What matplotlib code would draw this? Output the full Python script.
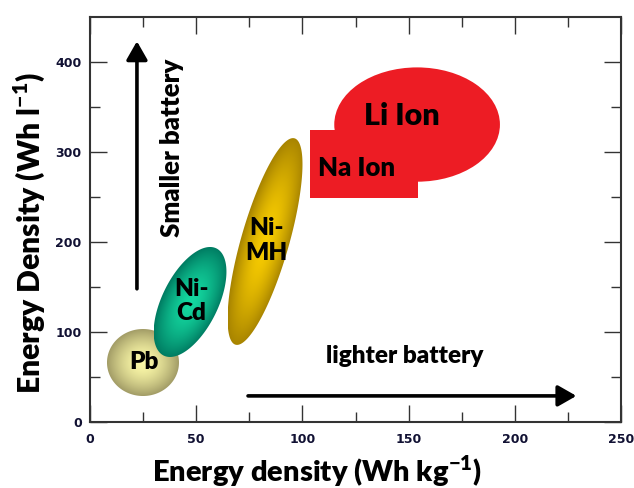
import numpy as np
import matplotlib
matplotlib.use("Agg")
import matplotlib.pyplot as plt
from matplotlib.patches import Polygon, Ellipse, Rectangle
from matplotlib.colors import to_rgb

# ellipse regions, given by the ends of their long axis (Wh/kg, Wh/l)
cells = ["Pb", "Ni-\nCd", "Ni-\nMH"]
grav_lo = [8.0, 34.7, 68.5]
grav_hi = [41.9, 59.5, 96.3]
vol_lo = [66.1, 73.8, 85.9]
vol_hi = [66.1, 192.9, 315.2]

# lithium ion (ellipse) and sodium ion (box) ranges
li_grav = [115.0, 193.0]
li_vol = [267.0, 394.0]
na_grav = [103.6, 154.4]
na_vol = [249.0, 324.0]

x_ticks = [0, 50, 100, 150, 200, 250]
y_ticks = [0, 100, 200, 300, 400]

# styles
thick_px = [67, 56, 48]
inner = ["#fbf8a8", "#14d8a0", "#f8cc00"]
outer = ["#a29c66", "#007c62", "#a88400"]
red = "#ed1c24"
lab = ["Lato", "DejaVu Sans"]
W = 800

plt.rcParams["mathtext.fontset"] = "custom"
plt.rcParams["mathtext.rm"] = "Lato:heavy"
plt.rcParams["mathtext.bf"] = "Lato:heavy"

fig = plt.figure(figsize=(6.34, 4.88), dpi=100)
ax = fig.add_axes([90 / 634, 66 / 488, 531 / 634, 405 / 488])
ax.set_xlim(0, 250)
ax.set_ylim(0, 450)
ax.set_autoscale_on(False)


def ellipse(i, z):
    p0 = ax.transData.transform((grav_lo[i], vol_lo[i]))
    p1 = ax.transData.transform((grav_hi[i], vol_hi[i]))
    c = (p0 + p1) / 2
    d = p1 - p0
    a = np.hypot(*d) / 2
    b = thick_px[i] / 2
    th = np.arctan2(d[1], d[0])
    t = np.linspace(0, 2 * np.pi, 200)
    u = a * np.cos(t)
    v = b * np.sin(t)
    pts = np.column_stack([c[0] + u * np.cos(th) - v * np.sin(th),
                           c[1] + u * np.sin(th) + v * np.cos(th)])
    dpts = ax.transData.inverted().transform(pts)
    poly = Polygon(dpts, closed=True, facecolor="none", edgecolor="none", zorder=z)
    ax.add_patch(poly)
    x0, y0 = dpts.min(axis=0)
    x1, y1 = dpts.max(axis=0)
    gx, gy = np.meshgrid(np.linspace(x0, x1, 300), np.linspace(y0, y1, 300))
    disp = ax.transData.transform(np.column_stack([gx.ravel(), gy.ravel()]))
    dx = disp[:, 0] - c[0]
    dy = disp[:, 1] - c[1]
    uu = dx * np.cos(th) + dy * np.sin(th)
    vv = -dx * np.sin(th) + dy * np.cos(th)
    r = np.clip(np.sqrt((uu / a) ** 2 + (vv / b) ** 2), 0, 1).reshape(gx.shape)
    f = r ** 1.6
    c0 = np.array(to_rgb(inner[i]))
    c1 = np.array(to_rgb(outer[i]))
    img = c0 + (c1 - c0) * f[..., None]
    im = ax.imshow(img, extent=(x0, x1, y0, y1), origin="lower", aspect="auto",
                   interpolation="bilinear", zorder=z)
    im.set_clip_path(poly)
    cx, cy = ax.transData.inverted().transform(c)
    ax.text(cx + 0.5, cy + 1, cells[i], ha="center", va="center", fontsize=17.5,
            fontweight=W, family=lab, linespacing=1.15, zorder=z + 0.5)


ellipse(0, 2)
ellipse(2, 3)
ellipse(1, 4)

ax.add_patch(Rectangle((na_grav[0], na_vol[0]), na_grav[1] - na_grav[0],
                       na_vol[1] - na_vol[0], facecolor=red, edgecolor="none", zorder=2))
ax.add_patch(Ellipse(((li_grav[0] + li_grav[1]) / 2, (li_vol[0] + li_vol[1]) / 2),
                     li_grav[1] - li_grav[0], li_vol[1] - li_vol[0],
                     facecolor=red, edgecolor="none", zorder=2))
ax.text(147, 340, "Li Ion", ha="center", va="center", fontsize=22,
        fontweight=W, family=lab, zorder=5)
ax.text(125.5, 282, "Na Ion", ha="center", va="center", fontsize=18.5,
        fontweight=W, family=lab, zorder=5)

# direction arrows
arr = dict(arrowstyle="-|>,head_length=0.7,head_width=0.4", color="black",
           lw=2.6, mutation_scale=16, shrinkA=0, shrinkB=0)
ax.annotate("", xy=(22.1, 423), xytext=(22.1, 148), arrowprops=arr, zorder=5)
ax.annotate("", xy=(229, 29), xytext=(74.4, 29), arrowprops=arr, zorder=5)
ax.text(38.6, 305, "Smaller battery", rotation=90, ha="center", va="center",
        fontsize=18.5, fontweight=W, family=lab)
ax.text(148, 73, "lighter battery", ha="center", va="center",
        fontsize=17.5, fontweight=W, family=lab)

ax.set_xticks(x_ticks)
ax.set_yticks(y_ticks)
ax.set_xticks(np.arange(25, 250, 50), minor=True)
ax.set_yticks(np.arange(50, 450, 100), minor=True)
ax.tick_params(which="both", direction="in", top=True, right=True,
               width=1, color="#333333", labelsize=9, labelcolor="#111133")
ax.tick_params(which="major", length=12)
ax.tick_params(axis="x", which="major", pad=8)
ax.tick_params(axis="y", which="major", pad=6)
ax.tick_params(which="minor", length=7)
for t in ax.get_xticklabels() + ax.get_yticklabels():
    t.set_fontweight("bold")
    t.set_family("DejaVu Sans")
for s in ax.spines.values():
    s.set_linewidth(1.5)
    s.set_color("#333333")

ax.set_xlabel("Energy density (Wh kg$^{-1}$)", fontsize=21, fontweight=W,
              family=lab, labelpad=5)
ax.set_ylabel("Energy Density (Wh l$^{-1}$)", fontsize=21.7, fontweight=W,
              family=lab, labelpad=6)
ax.xaxis.label.set_x((317 - 90) / 531)
ax.yaxis.label.set_y((422 - 233) / 405)

fig.savefig("out.png", dpi=100)
